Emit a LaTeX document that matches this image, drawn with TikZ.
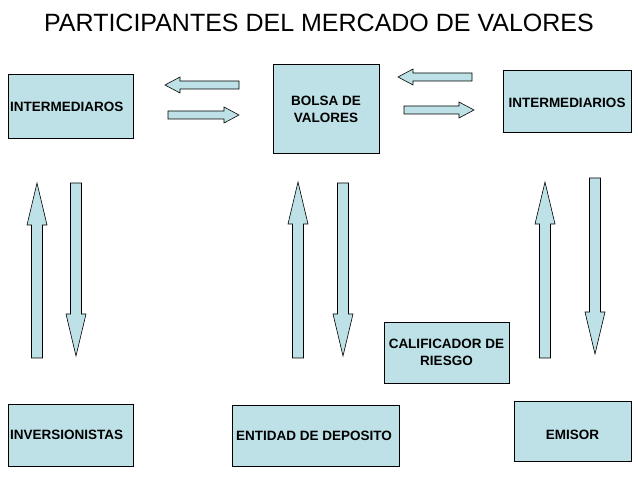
\documentclass[tikz,border=0pt]{standalone}
\usepackage{fontspec}
\setmainfont{Liberation Sans}
\definecolor{bx}{HTML}{BDE1E6}
\tikzset{box/.style={draw=black,fill=bx,line width=0.6pt,inner sep=1pt},
lbl/.style={font=\bfseries\fontsize{13.5}{17}\selectfont,inner sep=1pt,align=center},
arr/.style={draw=black,fill=bx,line width=0.6pt}}
\newcommand\blk[7]{\begin{scope}[shift={(#1,#2)},rotate=#3]
\draw[arr] (0,-#5)--(#4-#7,-#5)--(#4-#7,-#6)--(#4,0)--(#4-#7,#6)--(#4-#7,#5)--(0,#5)--cycle;\end{scope}}
\begin{document}
\begin{tikzpicture}[x=1pt,y=1pt]
\useasboundingbox (0,0) rectangle (638,479);
\node[font=\fontsize{25}{28}\selectfont] (t) at (319,456) {PARTICIPANTES DEL MERCADO DE VALORES};
\node[box,minimum width=125,minimum height=64] (a) at (70.5,373) {};
\node[lbl,anchor=west] (al) at (9,372) {INTERMEDIAROS};
\node[box,minimum width=106,minimum height=89] (b) at (326,370.5) {};
\node[lbl] (bl) at (326,370) {BOLSA DE\\VALORES};
\node[box,minimum width=128,minimum height=62] (c) at (567,378) {};
\node[lbl] (cl) at (567,376) {INTERMEDIARIOS};
\node[box,minimum width=125,minimum height=61] (d) at (446.5,126.5) {};
\node[lbl] (dl) at (446.5,126.5) {CALIFICADOR DE\\RIESGO};
\node[box,minimum width=125,minimum height=62] (e) at (70.5,44) {};
\node[lbl,anchor=west] (el) at (9,44) {INVERSIONISTAS};
\node[box,minimum width=167,minimum height=61] (f) at (315.5,43.5) {};
\node[lbl,anchor=west] (fl) at (235,43.5) {ENTIDAD DE DEPOSITO};
\node[box,minimum width=117,minimum height=60] (g) at (572.5,48) {};
\node[lbl] (gl) at (572.5,44) {EMISOR};
% horizontal arrows
\blk{239}{394}{180}{74}{4}{8}{15}
\blk{168}{364}{0}{71}{4}{8}{15}
\blk{472}{402}{180}{74}{4}{8}{15}
\blk{404}{369}{0}{70}{4}{8}{15}
% vertical arrows
\blk{37}{121}{90}{175}{5.5}{10}{42}
\blk{76}{296}{-90}{173}{5.5}{10}{42}
\blk{298}{121}{90}{176}{5.5}{10}{42}
\blk{343}{296}{-90}{173}{5.5}{10}{42}
\blk{545}{121}{90}{176}{5.5}{10}{42}
\blk{595}{301}{-90}{176}{5.5}{10}{42}
\end{tikzpicture}
\end{document}
